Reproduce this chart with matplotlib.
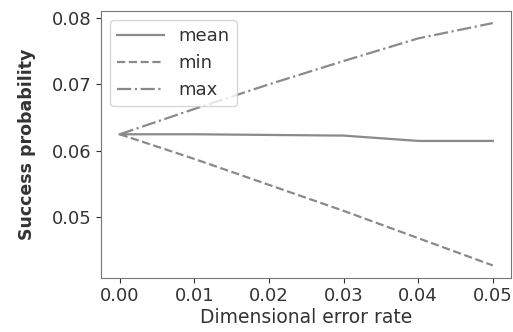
"""
success probability vs dimensional error rate
"""

import matplotlib
matplotlib.use('Agg')
import matplotlib.pyplot as plt

error_rate = [0.00, 0.01, 0.02, 0.03, 0.04, 0.05]
mean_prob = [0.0625, 0.0625, 0.0624, 0.0623, 0.0615, 0.0615]
min_prob = [0.0625, 0.0588, 0.0549, 0.0510, 0.0469, 0.0428]
max_prob = [0.0625, 0.0663, 0.0700, 0.0735, 0.0769, 0.0792]

TEXT = '#333333'
LINE = '#8a8a8a'

fig = plt.figure(figsize=(5.13, 3.32), dpi=100)
ax = fig.add_axes([0.197, 0.164, 0.8, 0.803])

ax.plot(error_rate, mean_prob, '-', color=LINE, lw=1.6, label='mean')
ax.plot(error_rate, min_prob, '--', color=LINE, lw=1.6, label='min')
ax.plot(error_rate, max_prob, '-.', color=LINE, lw=1.6, label='max')

ax.set_xticks([0.00, 0.01, 0.02, 0.03, 0.04, 0.05])
ax.set_xticklabels(['0.00', '0.01', '0.02', '0.03', '0.04', '0.05'])
ax.set_yticks([0.05, 0.06, 0.07, 0.08])
ax.set_yticklabels(['0.05', '0.06', '0.07', '0.08'])
ax.tick_params(labelsize=13, colors=TEXT)
for s in ax.spines.values():
    s.set_color('#777777')

ax.set_xlabel('Dimensional error rate', fontsize=13.5, color=TEXT, labelpad=2)
ax.set_ylabel('Success probability', fontsize=12.5, color=TEXT, fontweight='bold', labelpad=11)

leg = ax.legend(loc='upper left', fontsize=13, handlelength=2.6, labelcolor=TEXT)

fig.savefig('out.png', dpi=100)
